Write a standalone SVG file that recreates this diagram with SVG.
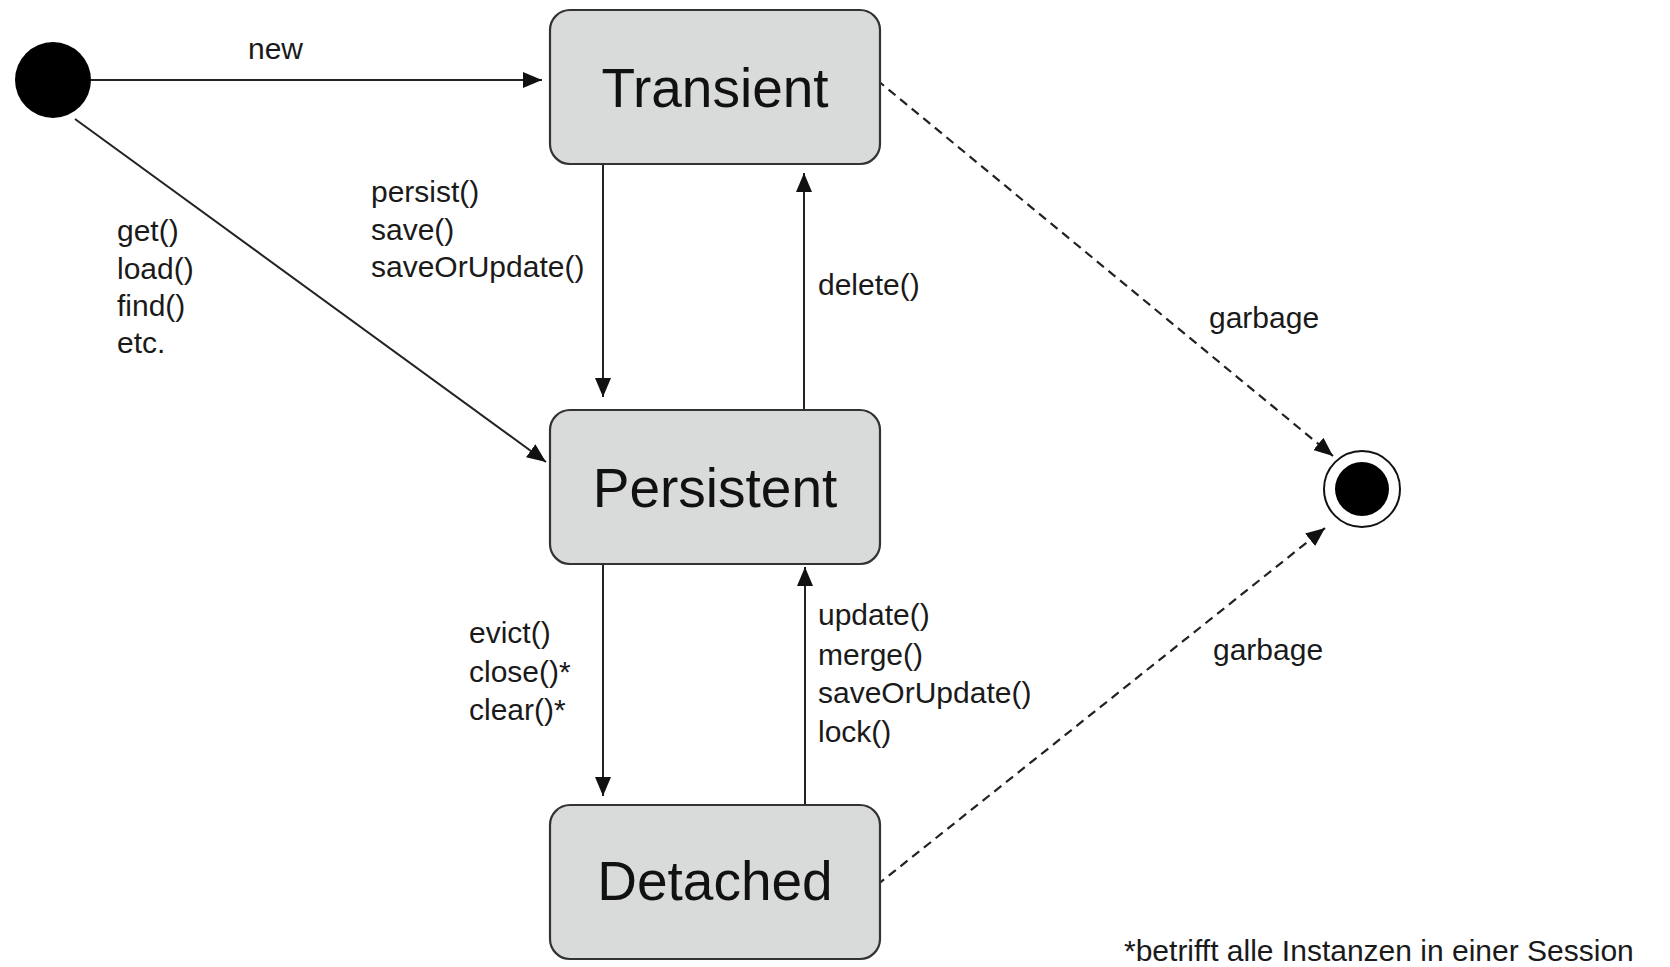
<svg xmlns="http://www.w3.org/2000/svg" width="1670" height="967" viewBox="0 0 1670 967">
<style>
.box{fill:#d9dada;stroke:#333;stroke-width:2.2}
.title{font-family:"Liberation Sans",Arial,sans-serif;font-size:55px;fill:#111;text-anchor:middle}
.lbl{font-family:"Liberation Sans",Arial,sans-serif;font-size:30px;fill:#1a1a1a}
.edge{stroke:#222;stroke-width:2;fill:none}
.dash{stroke:#222;stroke-width:2.2;fill:none;stroke-dasharray:9 6}
</style>
<defs>
<marker id="arr" markerUnits="userSpaceOnUse" markerWidth="19" markerHeight="16" refX="19" refY="8" orient="auto">
<path d="M0,0 L19,8 L0,16 z" fill="#111"/>
</marker>
</defs>
<rect width="1670" height="967" fill="#fff"/>
<g id="connectors">
<line class="edge" x1="91" y1="80" x2="542" y2="80" marker-end="url(#arr)"/>
<line class="edge" x1="75" y1="119" x2="546" y2="462" marker-end="url(#arr)"/>
<line class="edge" x1="603" y1="164" x2="603" y2="397" marker-end="url(#arr)"/>
<line class="edge" x1="804" y1="410" x2="804" y2="173" marker-end="url(#arr)"/>
<line class="edge" x1="603" y1="564" x2="603" y2="796" marker-end="url(#arr)"/>
<line class="edge" x1="805" y1="804" x2="805" y2="567" marker-end="url(#arr)"/>
<line class="dash" x1="877" y1="80" x2="1333" y2="456" marker-end="url(#arr)"/>
<line class="dash" x1="877" y1="885" x2="1325" y2="528" marker-end="url(#arr)"/>
<text class="lbl" x="248" y="59">new</text>
<text class="lbl" x="117" y="241">get()</text>
<text class="lbl" x="117" y="279">load()</text>
<text class="lbl" x="117" y="316">find()</text>
<text class="lbl" x="117" y="353">etc.</text>
<text class="lbl" x="371" y="202">persist()</text>
<text class="lbl" x="371" y="240">save()</text>
<text class="lbl" x="371" y="277">saveOrUpdate()</text>
<text class="lbl" x="818" y="295">delete()</text>
<text class="lbl" x="469" y="643">evict()</text>
<text class="lbl" x="469" y="682">close()*</text>
<text class="lbl" x="469" y="720">clear()*</text>
<text class="lbl" x="818" y="625">update()</text>
<text class="lbl" x="818" y="665">merge()</text>
<text class="lbl" x="818" y="703">saveOrUpdate()</text>
<text class="lbl" x="818" y="742">lock()</text>
<text class="lbl" x="1209" y="328">garbage</text>
<text class="lbl" x="1213" y="660">garbage</text>
</g>
<g id="initial">
<circle cx="53" cy="80" r="38" fill="#000"/>
</g>
<g id="transient">
<rect class="box" x="550" y="10" width="330" height="154" rx="20"/>
<text class="title" x="715" y="107">Transient</text>
</g>
<g id="persistent">
<rect class="box" x="550" y="410" width="330" height="154" rx="20"/>
<text class="title" x="715" y="507">Persistent</text>
</g>
<g id="detached">
<rect class="box" x="550" y="805" width="330" height="154" rx="20"/>
<text class="title" x="715" y="900">Detached</text>
</g>
<g id="final">
<circle cx="1362" cy="489" r="38" fill="#fff" stroke="#111" stroke-width="2"/>
<circle cx="1362" cy="489" r="27" fill="#000"/>
</g>
<g id="footnote">
<text class="lbl" x="1124" y="961">*betrifft alle Instanzen in einer Session</text>
</g>
</svg>
